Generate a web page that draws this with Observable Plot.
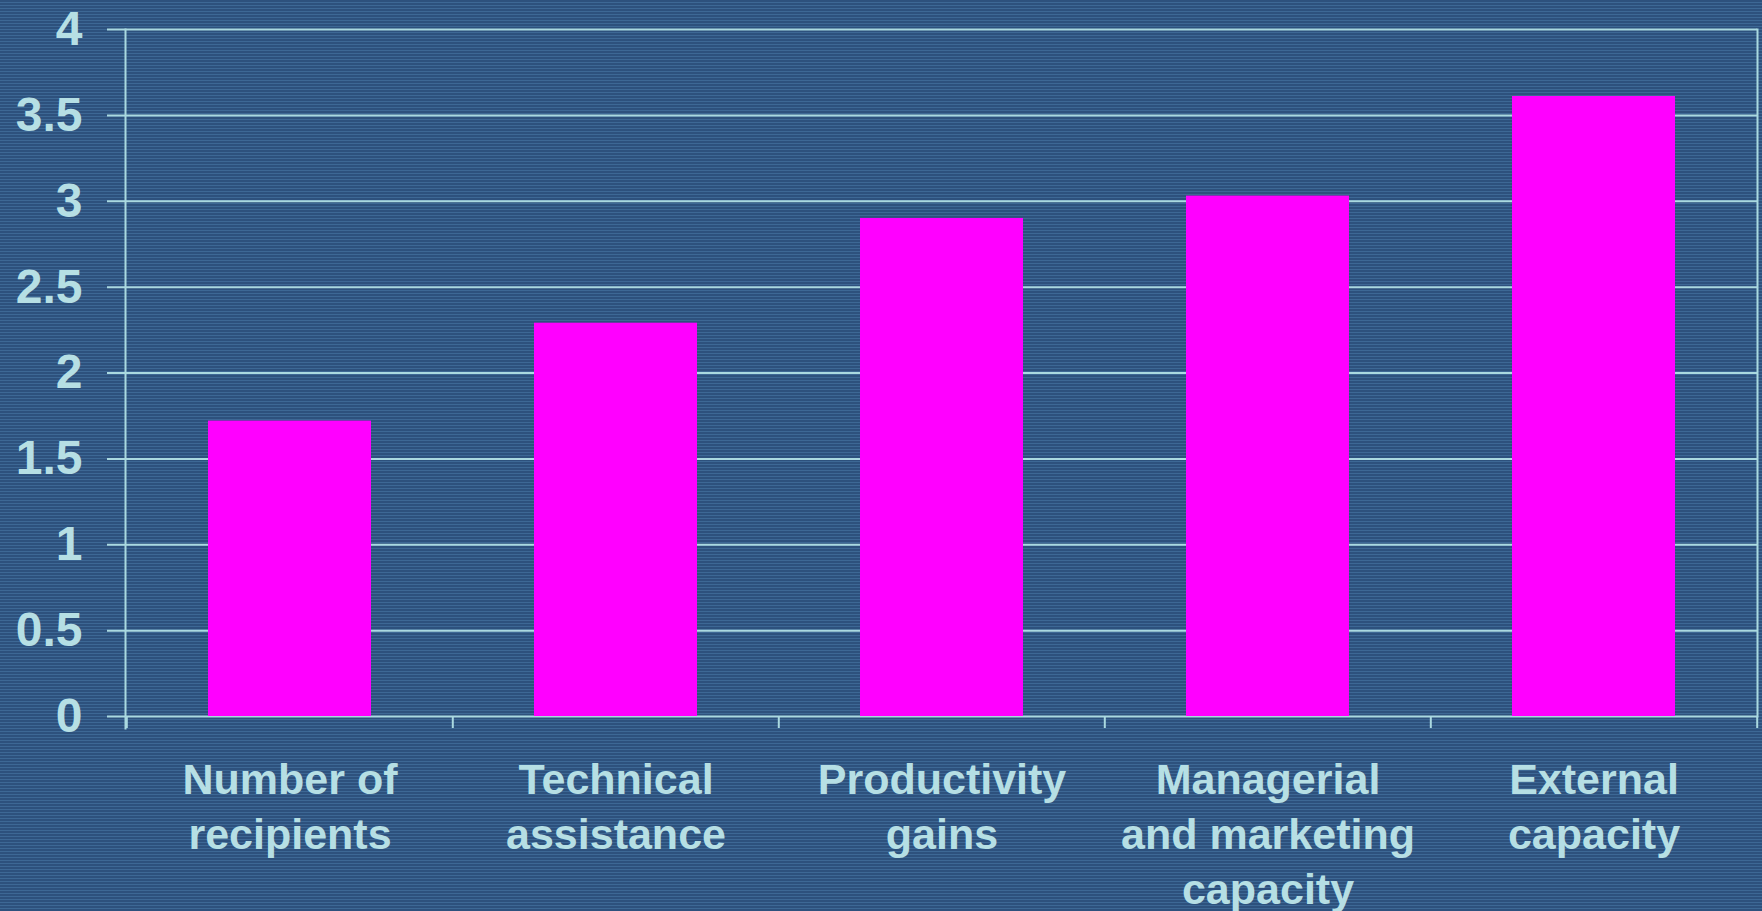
<!DOCTYPE html>
<html>
<head>
<meta charset="utf-8">
<script src="https://cdn.jsdelivr.net/npm/d3@7"></script>
<script src="https://cdn.jsdelivr.net/npm/@observablehq/plot@0.6"></script>
<style>
  html, body { margin: 0; padding: 0; overflow: hidden; }
  body {
    width: 1762px; height: 911px;
    background: repeating-linear-gradient(to bottom, #2d517d 0px, #2d517d 2px, #3d6895 2px, #3d6895 3px);
  }
  #chart svg { display: block; overflow: visible; }
</style>
</head>
<body>
<div id="chart"></div>
<script>
const categories = [
  "Number of recipients",
  "Technical assistance",
  "Productivity gains",
  "Managerial and marketing capacity",
  "External capacity"
];
const tickLabels = [
  "Number of\nrecipients",
  "Technical\nassistance",
  "Productivity\ngains",
  "Managerial\nand marketing\ncapacity",
  "External\ncapacity"
];
const values = [1.72, 2.29, 2.90, 3.03, 3.61];
const yTicks = [0, 0.5, 1, 1.5, 2, 2.5, 3, 3.5, 4];
const yTickLabels = ["0", "0.5", "1", "1.5", "2", "2.5", "3", "3.5", "4"];

const data = categories.map((c, i) => ({category: c, value: values[i]}));

const W = 1762, H = 911;
const mL = 125, mR = 5, mT = 29, mB = 195;
const step = (W - mL - mR) / categories.length;
const lineColor = "#aad9e0";
const textColor = "#b6dfe4";
const font = "'Liberation Sans', Arial, Helvetica, sans-serif";

const labelOf = new Map(categories.map((c, i) => [c, tickLabels[i]]));
const yLabelOf = new Map(yTicks.map((t, i) => [t, yTickLabels[i]]));

const chart = Plot.plot({
  width: W,
  height: H,
  marginLeft: mL,
  marginRight: mR,
  marginTop: mT,
  marginBottom: mB,
  style: {background: "transparent", color: textColor, fontFamily: font},
  x: {type: "band", domain: categories, paddingInner: 0.5, paddingOuter: 0.25},
  y: {domain: [0, 4]},
  marks: [
    Plot.ruleY(yTicks, {stroke: lineColor, strokeWidth: 2, insetLeft: -18}),
    Plot.frame({anchor: "left", stroke: lineColor, strokeWidth: 2, insetBottom: -12}),
    Plot.frame({anchor: "right", stroke: lineColor, strokeWidth: 2}),
    Plot.ruleX(categories, {x: d => d, y1: 0, y2: 0, dx: -step / 2, insetBottom: -12, stroke: lineColor, strokeWidth: 2}),
    Plot.ruleX(categories.slice(-1), {x: d => d, y1: 0, y2: 0, dx: step / 2, insetBottom: -12, stroke: lineColor, strokeWidth: 2}),
    Plot.barY(data, {x: "category", y: "value", fill: "#ff00ff"}),
    Plot.axisY({
      ticks: yTicks, tickSize: 0, tickPadding: 43,
      tickFormat: t => yLabelOf.get(t),
      fontSize: 48, fontWeight: "bold", fill: textColor, label: null
    }),
    Plot.axisX({
      tickSize: 0, tickPadding: 38,
      tickFormat: c => labelOf.get(c),
      fontSize: 43, fontWeight: "bold", fill: textColor, lineHeight: 1.28, label: null
    })
  ]
});
document.getElementById("chart").append(chart);
</script>
</body>
</html>
